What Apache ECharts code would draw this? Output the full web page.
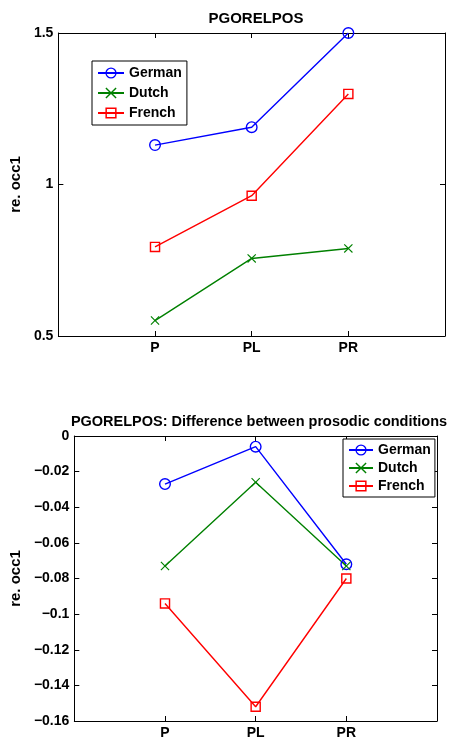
<!DOCTYPE html>
<html>
<head>
<meta charset="utf-8">
<script src="https://cdn.jsdelivr.net/npm/echarts@6/dist/echarts.min.js"></script>
<style>
  html, body { margin: 0; padding: 0; background: #fff; }
  #chart { width: 450px; height: 740px; }
</style>
</head>
<body>
<div id="chart"></div>
<script>
// categories along x (placed at 1, 2, 3 on a 0..4 axis, like matlab)
const categories = ['P', 'PL', 'PR'];
const seriesNames = ['German', 'Dutch', 'French'];

// top panel: absolute values
const germanTop = [1.130, 1.189, 1.500];
const dutchTop = [0.551, 0.756, 0.789];
const frenchTop = [0.794, 0.963, 1.299];

// bottom panel: difference between prosodic conditions
const germanDiff = [-0.027, -0.006, -0.072];
const dutchDiff = [-0.073, -0.026, -0.073];
const frenchDiff = [-0.094, -0.152, -0.080];

const topTicks = [0.5, 1, 1.5];
const diffTicks = [-0.16, -0.14, -0.12, -0.1, -0.08, -0.06, -0.04, -0.02, 0];

const FONT = 'Liberation Sans';
const colors = { German: '#0000ff', Dutch: '#008000', French: '#ff0000' };
// open markers, drawn as rings so the line shows through like matlab
const ring = 'path://M10,0A10,10,0,1,1,10,20A10,10,0,1,1,10,0ZM10,2.3A7.7,7.7,0,1,0,10,17.7A7.7,7.7,0,1,0,10,2.3Z';
const box = 'path://M0,0H10V10H0ZM1.35,1.35V8.65H8.65V1.35Z';
const cross = 'path://M0,0.9L0.9,0L5,4.1L9.1,0L10,0.9L5.9,5L10,9.1L9.1,10L5,5.9L0.9,10L0,9.1L4.1,5Z';
const symbols = { German: ring, Dutch: cross, French: box };
const sizes = { German: 12, Dutch: 9, French: 10.5 };

const toPoints = vals => vals.map((v, i) => [i + 1, v]);
const fmtTick = v => {
  if (Math.abs(v) < 1e-9) return '0';
  return String(Number(v.toFixed(2))).replace('-', '\u2212');
};

function boxAxes(gridIndex, min, max, interval, yFmt, nameGap) {
  const line = { show: true, onZero: false, lineStyle: { color: '#000', width: 1 } };
  const tick = { show: true, inside: true, length: 5, lineStyle: { color: '#000' } };
  const label = { color: '#000', fontFamily: FONT, fontWeight: 'bold', fontSize: 14 };
  return {
    x: [
      {
        type: 'value', gridIndex, min: 0, max: 4, interval: 1, position: 'bottom',
        axisLine: line, axisTick: tick, splitLine: { show: false },
        axisLabel: Object.assign({ margin: 5, formatter: v => categories[v - 1] || '' }, label)
      },
      {
        type: 'value', gridIndex, min: 0, max: 4, interval: 1, position: 'top',
        axisLine: line, axisTick: tick, splitLine: { show: false }, axisLabel: { show: false }
      }
    ],
    y: [
      {
        type: 'value', gridIndex, min, max, interval, position: 'left',
        name: 're. occ1', nameLocation: 'middle', nameGap,
        nameTextStyle: { color: '#000', fontFamily: FONT, fontWeight: 'bold', fontSize: 15 },
        axisLine: line, axisTick: tick, splitLine: { show: false },
        axisLabel: Object.assign({ margin: 5, formatter: yFmt }, label)
      },
      {
        type: 'value', gridIndex, min, max, interval, position: 'right',
        axisLine: line, axisTick: tick, splitLine: { show: false }, axisLabel: { show: false }
      }
    ]
  };
}

const topAxes = boxAxes(0, topTicks[0], topTicks[topTicks.length - 1], 0.5, v => String(v), 31);
const diffAxes = boxAxes(1, diffTicks[0], diffTicks[diffTicks.length - 1], 0.02, fmtTick, 45);

function makeSeries(name, vals, xIdx, yIdx) {
  return {
    name, type: 'line', xAxisIndex: xIdx, yAxisIndex: yIdx,
    data: toPoints(vals),
    symbol: symbols[name], symbolSize: sizes[name],
    itemStyle: { color: colors[name] },
    lineStyle: { color: colors[name], width: 1.4 },
    animation: false
  };
}

const legendText = { color: '#000', fontFamily: FONT, fontWeight: 'bold', fontSize: 14 };

const option = {
  backgroundColor: '#fff',
  animation: false,
  title: [
    {
      text: 'PGORELPOS', left: 251, top: 6, textAlign: 'center',
      textStyle: { color: '#000', fontFamily: FONT, fontWeight: 'bold', fontSize: 15 }
    },
    {
      text: 'PGORELPOS: Difference between prosodic conditions', left: 254, top: 409, textAlign: 'center',
      textStyle: { color: '#000', fontFamily: FONT, fontWeight: 'bold', fontSize: 14.5 }
    }
  ],
  legend: [
    {
      data: seriesNames, orient: 'vertical', left: 92, top: 61,
      padding: [5, 5, 5, 5], itemWidth: 26, itemHeight: 14, itemGap: 6,
      borderColor: '#000', borderWidth: 1, backgroundColor: '#fff',
      textStyle: legendText, selectedMode: false
    },
    {
      data: seriesNames, orient: 'vertical', left: 343, top: 439,
      padding: [4, 4, 4, 5], itemWidth: 24, itemHeight: 14, itemGap: 4,
      borderColor: '#000', borderWidth: 1, backgroundColor: '#fff',
      textStyle: legendText, selectedMode: false
    }
  ],
  grid: [
    { left: 58, right: 5, top: 33, bottom: 404 },
    { left: 72, right: 13, top: 436, bottom: 18 }
  ],
  xAxis: topAxes.x.concat(diffAxes.x),
  yAxis: topAxes.y.concat(diffAxes.y),
  series: [
    makeSeries('German', germanTop, 0, 0),
    makeSeries('Dutch', dutchTop, 0, 0),
    makeSeries('French', frenchTop, 0, 0),
    makeSeries('German', germanDiff, 2, 2),
    makeSeries('Dutch', dutchDiff, 2, 2),
    makeSeries('French', frenchDiff, 2, 2)
  ]
};

const myChart = echarts.init(document.getElementById('chart'));
myChart.setOption(option);
</script>
</body>
</html>
